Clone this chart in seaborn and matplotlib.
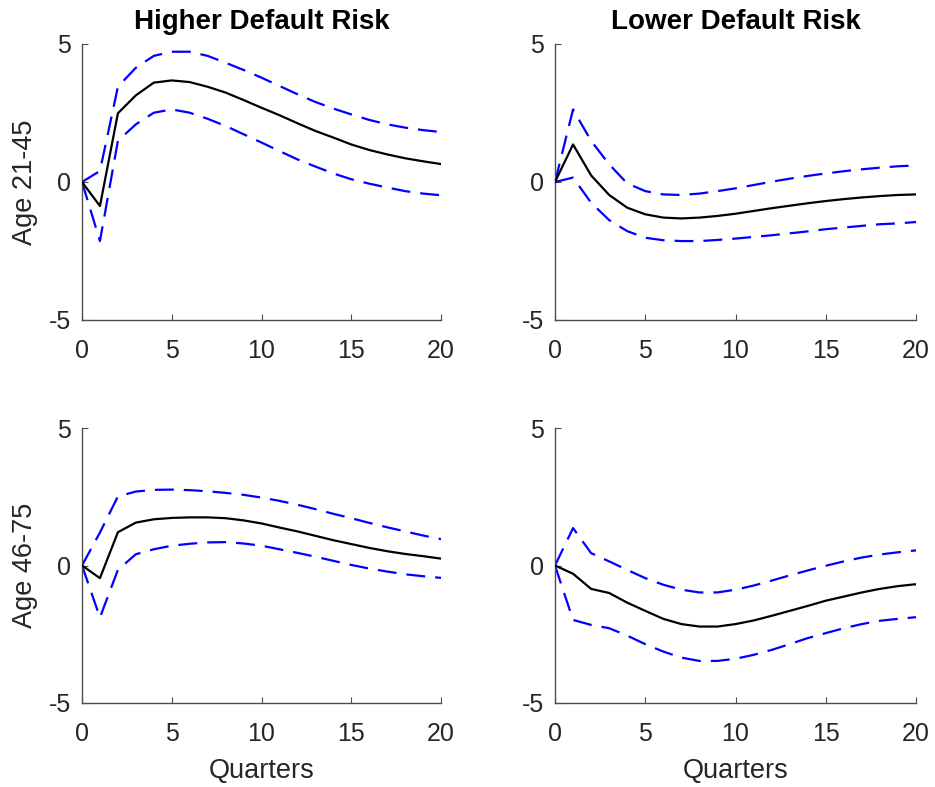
import numpy as np
import pandas as pd
import matplotlib
matplotlib.use("Agg")
import matplotlib.pyplot as plt
import seaborn as sns

quarters = list(range(21))

# Top-left: Age 21-45, Higher Default Risk
hy_irf = [0, -0.87, 2.49, 3.14, 3.60, 3.68, 3.62, 3.45, 3.24, 2.97, 2.69, 2.42, 2.13, 1.85, 1.61, 1.36, 1.16, 1.00, 0.86, 0.75, 0.65]
hy_up = [0, 0.40, 3.45, 4.14, 4.57, 4.72, 4.72, 4.57, 4.32, 4.06, 3.78, 3.48, 3.18, 2.90, 2.66, 2.45, 2.25, 2.09, 1.97, 1.88, 1.81]
hy_lo = [0, -2.14, 1.49, 2.09, 2.51, 2.63, 2.51, 2.29, 2.03, 1.73, 1.43, 1.12, 0.82, 0.56, 0.31, 0.10, -0.06, -0.20, -0.33, -0.42, -0.48]

# Top-right: Age 21-45, Lower Default Risk
ly_irf = [0, 1.36, 0.24, -0.47, -0.93, -1.17, -1.29, -1.32, -1.29, -1.23, -1.15, -1.05, -0.95, -0.86, -0.77, -0.69, -0.62, -0.56, -0.51, -0.47, -0.45]
ly_up = [0, 2.63, 1.49, 0.64, -0.05, -0.33, -0.45, -0.47, -0.42, -0.33, -0.23, -0.11, 0.01, 0.12, 0.22, 0.31, 0.39, 0.46, 0.52, 0.57, 0.60]
ly_lo = [0, 0.16, -0.75, -1.38, -1.78, -2.02, -2.11, -2.14, -2.14, -2.10, -2.05, -1.99, -1.93, -1.86, -1.79, -1.71, -1.65, -1.59, -1.53, -1.50, -1.45]

# Bottom-left: Age 46-75, Higher Default Risk
ho_irf = [0, -0.46, 1.21, 1.56, 1.68, 1.73, 1.75, 1.75, 1.72, 1.64, 1.53, 1.38, 1.24, 1.08, 0.92, 0.78, 0.64, 0.52, 0.42, 0.34, 0.25]
ho_up = [0, 1.20, 2.51, 2.69, 2.75, 2.76, 2.74, 2.70, 2.64, 2.57, 2.47, 2.35, 2.21, 2.05, 1.88, 1.72, 1.55, 1.39, 1.24, 1.09, 0.96]
ho_lo = [0, -1.89, -0.16, 0.41, 0.59, 0.72, 0.79, 0.84, 0.85, 0.80, 0.72, 0.59, 0.46, 0.32, 0.17, 0.02, -0.11, -0.22, -0.32, -0.39, -0.45]

# Bottom-right: Age 46-75, Lower Default Risk
lo_irf = [0, -0.30, -0.85, -1.00, -1.35, -1.65, -1.94, -2.13, -2.22, -2.22, -2.13, -2.00, -1.83, -1.65, -1.47, -1.28, -1.13, -0.98, -0.85, -0.75, -0.68]
lo_up = [0, 1.36, 0.45, 0.15, -0.16, -0.46, -0.70, -0.88, -0.98, -0.98, -0.88, -0.73, -0.55, -0.36, -0.18, -0.01, 0.15, 0.29, 0.40, 0.48, 0.55]
lo_lo = [0, -1.98, -2.16, -2.28, -2.55, -2.86, -3.13, -3.35, -3.47, -3.47, -3.39, -3.25, -3.07, -2.86, -2.64, -2.46, -2.28, -2.13, -2.01, -1.94, -1.88]

col_titles = ["Higher Default Risk", "Lower Default Risk"]
row_labels = ["Age 21-45", "Age 46-75"]
x_ticks = [0, 5, 10, 15, 20]
y_ticks = [-5, 0, 5]

panels = [
    [(hy_irf, hy_up, hy_lo), (ly_irf, ly_up, ly_lo)],
    [(ho_irf, ho_up, ho_lo), (lo_irf, lo_up, lo_lo)],
]

sns.set_theme(style="ticks")
plt.rcParams['font.family'] = ['Liberation Sans', 'DejaVu Sans']

fig = plt.figure(figsize=(9.35, 7.87), dpi=100)
W, H = 935, 787
boxes = [
    [(82, 44, 441, 320), (555, 44, 916, 320)],
    [(82, 428, 441, 703), (555, 428, 916, 703)],
]
axcol = '#262626'
for r in range(2):
    for c in range(2):
        x0, y0, x1, y1 = boxes[r][c]
        ax = fig.add_axes([x0 / W, 1 - y1 / H, (x1 - x0) / W, (y1 - y0) / H])
        irf, up, lo = panels[r][c]
        df = pd.DataFrame({"q": quarters, "irf": irf, "up": up, "lo": lo})
        sns.lineplot(data=df, x="q", y="up", ax=ax, color="#0000ff", lw=1.6,
                     zorder=2).lines[-1].set_dashes((8.5, 4.5))
        sns.lineplot(data=df, x="q", y="lo", ax=ax, color="#0000ff", lw=1.6,
                     zorder=2).lines[-1].set_dashes((8.5, 4.5))
        sns.lineplot(data=df, x="q", y="irf", ax=ax, color="black", lw=1.6, zorder=3)
        ax.set_xlim(0, 20)
        ax.set_ylim(-5, 5)
        ax.set_xticks(x_ticks)
        ax.set_yticks(y_ticks)
        ax.set_yticklabels([str(v) for v in y_ticks])
        sns.despine(ax=ax)
        for s in ("left", "bottom"):
            ax.spines[s].set_color('#4d4d4d')
            ax.spines[s].set_linewidth(1.0)
        ax.tick_params(direction='in', length=4, width=0.8, color='#4d4d4d',
                       labelsize=18, labelcolor=axcol)
        ax.tick_params(axis='x', pad=14)
        ax.tick_params(axis='y', pad=8)
        ax.set_xlabel("Quarters" if r == 1 else "", fontsize=19.5, color=axcol, labelpad=8)
        ax.set_ylabel(row_labels[r] if c == 0 else "", fontsize=19.5, color=axcol, labelpad=8)
        if r == 0:
            ax.set_title(col_titles[c], fontsize=20, fontweight='bold', color='black', pad=11)

fig.savefig("out.png", dpi=100)
